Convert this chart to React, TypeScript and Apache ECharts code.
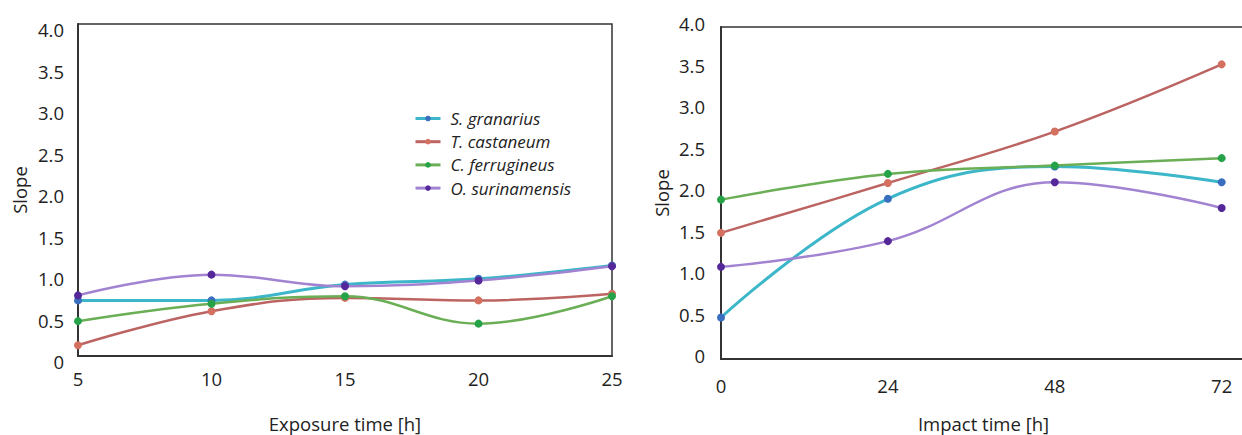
import React, { useEffect, useRef } from "react";
import * as echarts from "echarts";

const seriesNames = ["S. granarius", "T. castaneum", "C. ferrugineus", "O. surinamensis"];
const lineColors = ["#3cb6c9", "#bc6462", "#6aae55", "#a283d2"];
const markerColors = ["#3a6fc0", "#d4705f", "#26a348", "#55289a"];

const exposureHours = [5, 10, 15, 20, 25];
const exposureSG = [0.67, 0.67, 0.86, 0.93, 1.09];
const exposureTC = [0.13, 0.54, 0.7, 0.67, 0.75];
const exposureCF = [0.42, 0.63, 0.72, 0.39, 0.72];
const exposureOS = [0.73, 0.98, 0.84, 0.91, 1.08];

const impactHours = [0, 24, 48, 72];
const impactSG = [0.5, 1.93, 2.32, 2.13];
const impactTC = [1.52, 2.12, 2.74, 3.55];
const impactCF = [1.92, 2.23, 2.33, 2.42];
const impactOS = [1.11, 1.42, 2.13, 1.82];

const FONT = "Open Sans";

export default function App() {
  const ref = useRef<HTMLDivElement>(null);
  useEffect(() => {
    if (!ref.current) return;
    const chart = echarts.init(ref.current, undefined, { renderer: "svg" });
    const leftData = [exposureSG, exposureTC, exposureCF, exposureOS];
    const rightData = [impactSG, impactTC, impactCF, impactOS];
    const mk = (xs: number[], ys: number[], i: number, axisIndex: number) => ({
      type: "line",
      name: seriesNames[i],
      xAxisIndex: axisIndex,
      yAxisIndex: axisIndex,
      data: xs.map((x, k) => [x, ys[k]]),
      smooth: 0.4,
      symbol: "circle",
      symbolSize: 8,
      lineStyle: { color: lineColors[i], width: i === 0 ? 3 : 2.5 },
      itemStyle: { color: markerColors[i], borderWidth: 0 },
      z: 2 + i,
    });
    const yLabelFmt = (v: number) => (v === 0 ? "0" : v.toFixed(1));
    const axisLine = { show: true, lineStyle: { color: "#333", width: 2 } };
    chart.setOption({
      animation: false,
      backgroundColor: "#fff",
      textStyle: { fontFamily: FONT },
      grid: [
        {
          left: 78, right: 630, top: 24, bottom: 79,
          show: true, borderColor: "#333", borderWidth: 1.5,
          outerBoundsMode: "none",
        },
        {
          left: 721, right: -4, top: 27, bottom: 76,
          show: true, borderColor: "#333", borderWidth: 1.5,
          outerBoundsMode: "none",
        },
      ],
      legend: {
        orient: "vertical",
        left: 414,
        top: 110,
        padding: 0,
        itemWidth: 25,
        itemHeight: 7,
        itemGap: 6.2,
        data: seriesNames,
        lineStyle: { width: 3 },
        textStyle: {
          fontFamily: FONT, fontStyle: "italic", fontSize: 17, color: "#222",
          padding: [0, 0, 0, 5],
        },
      },
      xAxis: [
        {
          type: "value", gridIndex: 0, min: 5, max: 25, interval: 5,
          axisLine, axisTick: { show: false }, splitLine: { show: false },
          axisLabel: { fontSize: 18.5, color: "#222", margin: 13, fontFamily: FONT },
          name: "Exposure time [h]", nameLocation: "middle", nameGap: 58,
          nameTextStyle: { fontSize: 18.5, color: "#222", fontFamily: FONT },
        },
        {
          type: "value", gridIndex: 1, min: 0, max: 75.5, interval: 24,
          axisLine, axisTick: { show: false }, splitLine: { show: false },
          axisLabel: {
            fontSize: 18.5, color: "#222", margin: 17, fontFamily: FONT,
            formatter: (v: number) => (v % 24 === 0 ? String(v) : ""),
          },
          name: "Impact time [h]", nameLocation: "middle", nameGap: 55,
          nameTextStyle: { fontSize: 18.5, color: "#222", fontFamily: FONT },
        },
      ],
      yAxis: [
        {
          type: "value", gridIndex: 0, min: 0, max: 4, interval: 0.5,
          axisLine, axisTick: { show: false }, splitLine: { show: false },
          axisLabel: {
            fontSize: 18.5, color: "#222", margin: 14, fontFamily: FONT, formatter: yLabelFmt,
            verticalAlign: "top", lineHeight: 11,
          },
          name: "Slope", nameLocation: "middle", nameGap: 49,
          nameTextStyle: { fontSize: 18.5, color: "#222", fontFamily: FONT },
        },
        {
          type: "value", gridIndex: 1, min: 0, max: 4, interval: 0.5,
          axisLine, axisTick: { show: false }, splitLine: { show: false },
          axisLabel: {
            fontSize: 18.5, color: "#222", margin: 16, fontFamily: FONT, formatter: yLabelFmt,
            verticalAlign: "bottom", lineHeight: 7,
          },
          name: "Slope", nameLocation: "middle", nameGap: 50,
          nameTextStyle: { fontSize: 18.5, color: "#222", fontFamily: FONT },
        },
      ],
      series: [
        ...leftData.map((d, i) => mk(exposureHours, d, i, 0)),
        ...rightData.map((d, i) => mk(impactHours, d, i, 1)),
      ],
    });
    return () => chart.dispose();
  }, []);
  return (
    <div
      ref={ref}
      style={{ position: "fixed", left: 0, top: 0, width: 1242, height: 435 }}
    />
  );
}
